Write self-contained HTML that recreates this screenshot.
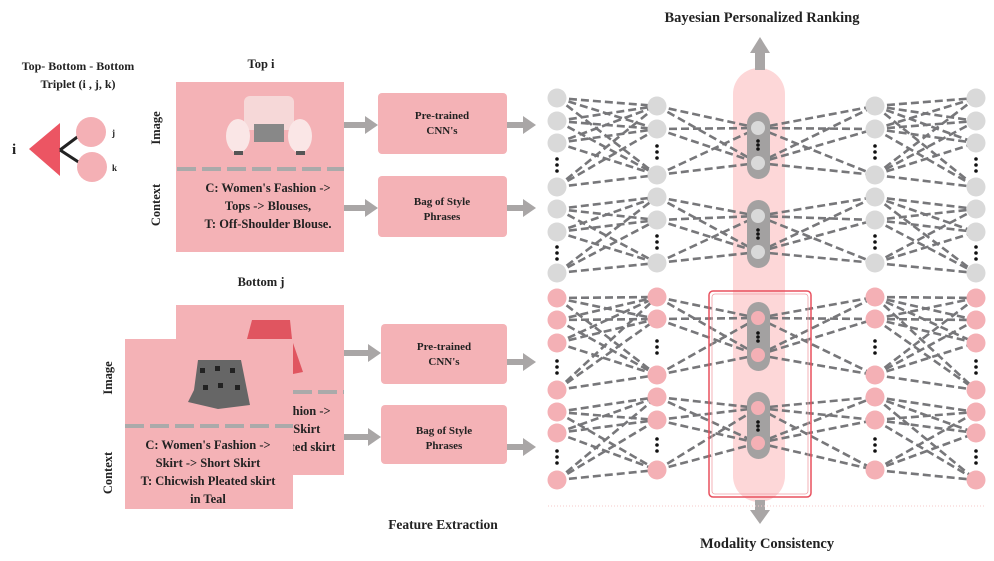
<!DOCTYPE html>
<html><head><meta charset="utf-8">
<style>
html,body{margin:0;padding:0;background:#fff;}
svg{display:block;}
text{font-family:"Liberation Serif",serif;font-weight:bold;fill:#222;}
</style></head>
<body>
<svg id="s" width="994" height="561" viewBox="0 0 994 561" xmlns="http://www.w3.org/2000/svg">
<!-- titles -->
<text x="762" y="22" font-size="14.5" text-anchor="middle">Bayesian Personalized Ranking</text>
<text x="767" y="548" font-size="14.5" text-anchor="middle">Modality Consistency</text>
<text x="443" y="529" font-size="13.5" text-anchor="middle">Feature Extraction</text>

<!-- triplet -->
<text x="78" y="70" font-size="12" text-anchor="middle">Top- Bottom - Bottom</text>
<text x="78" y="88" font-size="12" text-anchor="middle">Triplet (i , j, k)</text>
<text x="12" y="154" font-size="15">i</text>
<polygon points="29,149 60,123 60,176" fill="#ec5563"/>
<line x1="60" y1="150" x2="80" y2="135" stroke="#222" stroke-width="3"/>
<line x1="60" y1="150" x2="80" y2="163" stroke="#222" stroke-width="3"/>
<circle cx="91" cy="132" r="15" fill="#f4b0b5"/>
<circle cx="92" cy="167" r="15" fill="#f4b0b5"/>
<text x="112" y="136" font-size="9">j</text>
<text x="112" y="171" font-size="9">k</text>

<!-- Top i -->
<text x="261" y="68" font-size="12.5" text-anchor="middle">Top i</text>
<rect x="176" y="82" width="168" height="170" fill="#f4b2b6"/>
<line x1="177" y1="169" x2="344" y2="169" stroke="#aaa" stroke-width="4" stroke-dasharray="19,6"/>
<text transform="translate(160,128) rotate(-90)" font-size="12.5" text-anchor="middle">Image</text>
<text transform="translate(160,205) rotate(-90)" font-size="12.5" text-anchor="middle">Context</text>
<g>
<rect x="244" y="96" width="50" height="34" rx="6" fill="#f6d8d8"/>
<rect x="254" y="124" width="30" height="18" fill="#888"/>
<ellipse cx="238" cy="136" rx="12" ry="17" fill="#fae6e6"/>
<ellipse cx="300" cy="136" rx="12" ry="17" fill="#fae6e6"/>
<rect x="234" y="151" width="9" height="4" fill="#555"/>
<rect x="296" y="151" width="9" height="4" fill="#555"/>
</g>
<text x="268" y="192" font-size="12.5" text-anchor="middle">C:  Women's Fashion -&gt;</text>
<text x="268" y="210" font-size="12.5" text-anchor="middle">Tops -&gt; Blouses,</text>
<text x="268" y="228" font-size="12.5" text-anchor="middle">T:  Off-Shoulder Blouse.</text>

<g id="arrows" fill="#a9a6a6" stroke="none"></g>

<!-- Bottom j -->
<text x="261" y="286" font-size="12.5" text-anchor="middle">Bottom j</text>
<rect x="176" y="305" width="168" height="170" fill="#f4b2b6"/>
<polygon points="247,339 252,320 290,320 292,339" fill="#e05560"/>
<polygon points="293,343 303,372 293,374" fill="#e05560"/>
<line x1="293" y1="392" x2="344" y2="392" stroke="#aaa" stroke-width="4" stroke-dasharray="19,6"/>
<text x="268" y="415" font-size="12.5" text-anchor="middle">C:  Women's Fashion -&gt;</text>
<text x="268" y="433" font-size="12.5" text-anchor="middle">Skirt -&gt; Short Skirt</text>
<text x="268" y="451" font-size="12.5" text-anchor="middle">T:  Chicwish Pleated skirt</text>
<rect x="125" y="339" width="168" height="170" fill="#f4b2b6"/>
<polygon points="198,360 241,360 250,405 218,409 188,402 194,390" fill="#666"/>
<g fill="#222"><rect x="200" y="368" width="5" height="5"/><rect x="215" y="366" width="5" height="5"/><rect x="230" y="368" width="5" height="5"/><rect x="203" y="385" width="5" height="5"/><rect x="218" y="383" width="5" height="5"/><rect x="235" y="385" width="5" height="5"/></g>
<line x1="125" y1="426" x2="293" y2="426" stroke="#aaa" stroke-width="4" stroke-dasharray="19,6"/>
<text transform="translate(112,378) rotate(-90)" font-size="12.5" text-anchor="middle">Image</text>
<text transform="translate(112,473) rotate(-90)" font-size="12.5" text-anchor="middle">Context</text>
<text x="208" y="449" font-size="12.5" text-anchor="middle">C:  Women's Fashion -&gt;</text>
<text x="208" y="467" font-size="12.5" text-anchor="middle">Skirt -&gt; Short Skirt</text>
<text x="208" y="485" font-size="12.5" text-anchor="middle">T:  Chicwish Pleated skirt</text>
<text x="208" y="503" font-size="12.5" text-anchor="middle">in Teal</text>

<!-- feature boxes -->
<rect x="378" y="93" width="129" height="61" rx="4" fill="#f4b2b6"/>
<text x="442" y="119" font-size="11" text-anchor="middle">Pre-trained</text>
<text x="442" y="134" font-size="11" text-anchor="middle">CNN's</text>
<rect x="378" y="176" width="129" height="61" rx="4" fill="#f4b2b6"/>
<text x="442" y="205" font-size="11" text-anchor="middle">Bag of Style</text>
<text x="442" y="220" font-size="11" text-anchor="middle">Phrases</text>
<rect x="381" y="324" width="126" height="60" rx="4" fill="#f4b2b6"/>
<text x="444" y="350" font-size="11" text-anchor="middle">Pre-trained</text>
<text x="444" y="365" font-size="11" text-anchor="middle">CNN's</text>
<rect x="381" y="405" width="126" height="59" rx="4" fill="#f4b2b6"/>
<text x="444" y="434" font-size="11" text-anchor="middle">Bag of Style</text>
<text x="444" y="449" font-size="11" text-anchor="middle">Phrases</text>

<!-- big capsule -->
<rect x="733" y="68" width="52" height="434" rx="26" fill="#fdd7d8"/>
<rect x="755" y="46" width="10" height="24" fill="#a9a6a6"/>
<polygon points="760,37 750,53 770,53" fill="#a9a6a6"/>
<rect x="755" y="500" width="10" height="14" fill="#a9a6a6"/>
<polygon points="760,524 750,510 770,510" fill="#a9a6a6"/>
<line x1="548" y1="506" x2="985" y2="506" stroke="#f4c8ca" stroke-width="1" stroke-dasharray="1,2"/>

<g id="net"></g>
<rect x="709" y="291" width="102" height="206" rx="4" fill="none" stroke="#e8505e" stroke-width="1.5"/>
<rect x="712" y="294" width="96" height="200" rx="3" fill="none" stroke="#f0a0a6" stroke-width="0.8"/>
</svg>
<script>
var NS="http://www.w3.org/2000/svg";
function el(p,t,a){var e=document.createElementNS(NS,t);for(var k in a)e.setAttribute(k,a[k]);p.appendChild(e);return e;}
var ar=document.getElementById('arrows');
function arrow(x1,x2,y){el(ar,'rect',{x:x1,y:y-3,width:x2-x1-12,height:6});el(ar,'polygon',{points:(x2-13)+','+(y-9)+' '+x2+','+y+' '+(x2-13)+','+(y+9)});}
arrow(344,378,125);arrow(344,378,208);arrow(344,381,353);arrow(344,381,437);
arrow(507,536,125);arrow(507,536,208);arrow(507,536,362);arrow(507,536,447);
var net=document.getElementById('net');
var lines=el(net,'g',{stroke:'#77777a','stroke-width':2.6,'stroke-dasharray':'8,4',fill:'none'});
var X=[557,657,758,875,976];
var groups=[
 {c:'#d9d9d9',rows:[[98,121,143,187],[106,129,175],[128,163],[106,129,175],[98,121,143,187]],dots:[[165],[152],[145],[152],[165]]},
 {c:'#d9d9d9',rows:[[209,232,273],[197,220,263],[216,252],[197,220,263],[209,232,273]],dots:[[253],[242],[234],[242],[253]]},
 {c:'#f4b0b5',rows:[[298,320,343,390],[297,319,375],[318,355],[297,319,375],[298,320,343,390]],dots:[[367],[347],[337],[347],[367]]},
 {c:'#f4b0b5',rows:[[412,433,480],[397,420,470],[408,443],[397,420,470],[412,433,480]],dots:[[457],[445],[426],[445],[457]]}
];
groups.forEach(function(g){
 for(var c=0;c<4;c++){g.rows[c].forEach(function(a){g.rows[c+1].forEach(function(b){el(lines,'line',{x1:X[c],y1:a,x2:X[c+1],y2:b});});});}
});
groups.forEach(function(g){
 var r=g.rows[2];el(net,'rect',{x:747,y:r[0]-16,width:23,height:r[1]-r[0]+32,rx:11.5,fill:'#a3a1a1'});
});
groups.forEach(function(g){
 for(var c=0;c<5;c++){
  g.rows[c].forEach(function(y){el(net,'circle',{cx:X[c],cy:y,r:c==2?7:9.5,fill:g.c});});
  var d=g.dots[c][0];var sp=c==2?4:6;
  for(var i=-1;i<=1;i++)el(net,'circle',{cx:X[c],cy:d+i*sp,r:1.8,fill:'#111'});
 }
});
</script>
</body></html>
